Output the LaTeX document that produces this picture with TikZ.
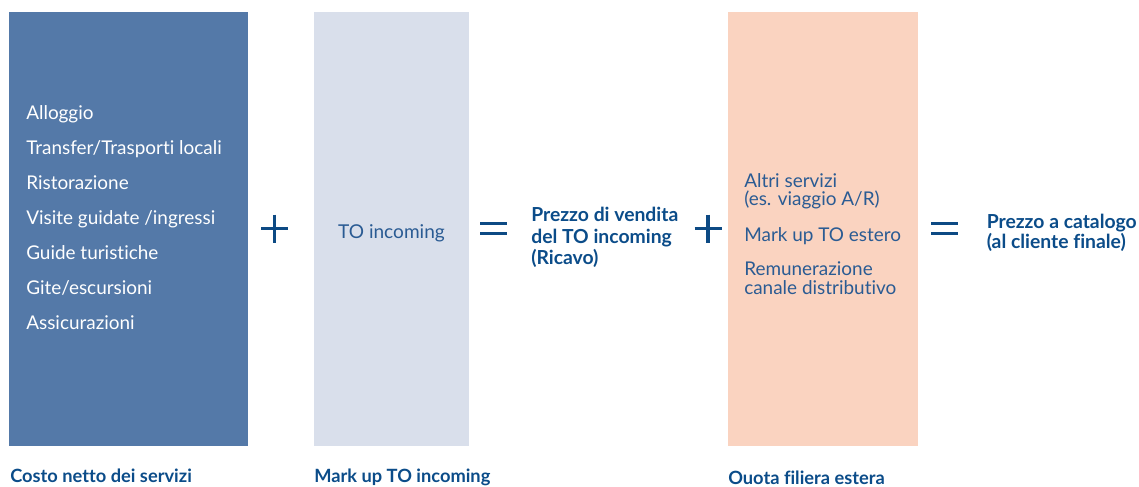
\documentclass[tikz,border=0pt]{standalone}
\usepackage{fontspec}
\setmainfont{Lato}[Ligatures=NoCommon]
\usetikzlibrary{positioning,calc}
\definecolor{costblue}{HTML}{5479A8}
\definecolor{markgrey}{HTML}{D9DFEB}
\definecolor{quotapeach}{HTML}{FAD3C0}
\definecolor{signblue}{HTML}{0D4A84}
\definecolor{textblue}{HTML}{2A5B93}
\definecolor{titleblue}{HTML}{0B4C89}

\begin{document}
\begin{tikzpicture}[x=0.75pt,y=-0.75pt,font=\fontsize{14.2}{16}\selectfont]
  \tikzstyle{bar}=[draw=none,inner sep=0pt,outer sep=0pt,anchor=north west]
  \tikzstyle{item}=[anchor=base west,inner sep=0pt,white]
  \tikzstyle{peach}=[anchor=base west,inner sep=0pt,textblue,font=\fontsize{14.2}{16}\selectfont]
  \tikzstyle{total}=[anchor=base west,inner sep=0pt,titleblue,font=\bfseries\fontsize{14.5}{16}\selectfont]
  \tikzstyle{caption}=[anchor=base west,inner sep=0pt,titleblue,font=\bfseries\fontsize{13.7}{15}\selectfont]
  \tikzstyle{sign}=[signblue,line width=2.3pt]
  \useasboundingbox (0,0) rectangle (1139,486);
  % columns
  \node[bar,fill=costblue,minimum width=179.25pt,minimum height=325.5pt] (cost) at (9,12) {};
  \node[bar,fill=markgrey,minimum width=116.25pt,minimum height=325.5pt] (mark) at (314,12) {};
  \node[bar,fill=quotapeach,minimum width=142.5pt,minimum height=325.5pt] (quota) at (728,12) {};
  % services
  \node[item] (alloggio) at (26,119.3) {Alloggio};
  \node[item] (transfer) at (26,154.3) {Transfer/Trasporti locali};
  \node[item] (ristoro) at (26,189.3) {Ristorazione};
  \node[item] (visite) at (26,224.3) {Visite guidate /ingressi};
  \node[item] (guide) at (26,259.3) {Guide turistiche};
  \node[item] (gite) at (26,294.3) {Gite/escursioni};
  \node[item] (assic) at (26,329.3) {Assicurazioni};
  \node[anchor=base,inner sep=0pt,textblue,font=\fontsize{14.3}{16}\selectfont] (toinc) at (391.5,238) {TO incoming};
  % result 1
  \node[total] (prezzo1) at (531,221.7) {Prezzo di vendita};
  \node[total] (prezzo2) at (531,243.3) {del TO incoming};
  \node[total] (prezzo3) at (531,264.5) {(Ricavo)};
  % foreign chain
  \node[peach] (altri1) at (744,187.3) {Altri servizi};
  \node[peach] (altri2) at (744,205.8) {(es. viaggio A/R)};
  \node[peach] (markest) at (744,241) {Mark up TO estero};
  \node[peach] (remun1) at (744,275.7) {Remunerazione};
  \node[peach] (remun2) at (744,294.2) {canale distributivo};
  % result 2
  \node[total] (catalogo1) at (986.5,228.3) {Prezzo a catalogo};
  \node[total] (catalogo2) at (986.5,248.5) {(al cliente finale)};
  % captions
  \node[caption] (capcost) at (10,482) {Costo netto dei servizi};
  \node[caption] (capmark) at (314,482) {Mark up TO incoming};
  \node[caption] (capquota) at (728,484) {Ouota filiera estera};
  % signs
  \coordinate (plusA) at (274.7,228.5);
  \coordinate (eqA) at (493.5,228.3);
  \coordinate (plusB) at (708,228.5);
  \coordinate (eqB) at (944.7,228.3);
  \draw[sign] ($(plusA)+(-13.5,0)$) -- ($(plusA)+(13.5,0)$) ($(plusA)+(0,-14)$) -- ($(plusA)+(0,14)$);
  \draw[sign] ($(plusB)+(-13.5,0)$) -- ($(plusB)+(13.5,0)$) ($(plusB)+(0,-14)$) -- ($(plusB)+(0,14)$);
  \draw[sign] ($(eqA)+(-13.5,-5)$) -- ($(eqA)+(13.5,-5)$) ($(eqA)+(-13.5,5)$) -- ($(eqA)+(13.5,5)$);
  \draw[sign] ($(eqB)+(-13.5,-5)$) -- ($(eqB)+(13.5,-5)$) ($(eqB)+(-13.5,5)$) -- ($(eqB)+(13.5,5)$);
\end{tikzpicture}
\end{document}
